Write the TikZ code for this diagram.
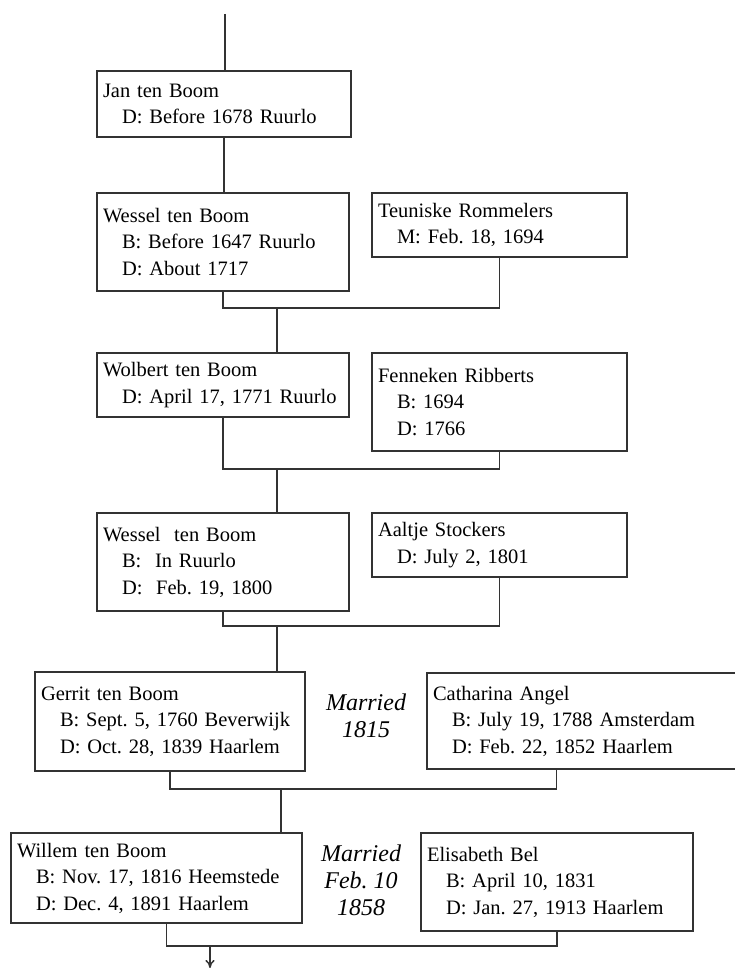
\documentclass[tikz,border=0pt]{standalone}
\usepackage{fontspec}
\setmainfont{Liberation Serif}
\usetikzlibrary{positioning,calc,arrows.meta}
\frenchspacing
\definecolor{linegray}{rgb}{0.2,0.2,0.2}
\def\ind{\hspace*{19pt}}
\tikzstyle{person} = [draw=linegray, line width=1.5pt, inner xsep=6pt, inner ysep=0pt, align=left, font=\fontsize{20.5}{26.5}\selectfont]
\tikzstyle{married} = [align=center, font=\fontsize{24}{27}\selectfont\itshape]
\tikzstyle{line} = [draw=linegray, line width=1.5pt]
\tikzstyle{arrow} = [line, -{To[length=8pt,width=9pt]}]

\begin{document}
\begin{tikzpicture}[x=1pt,y=-1pt]
      \useasboundingbox (0,0) rectangle (735,968);
      \node[person, text width=242pt, minimum height=66pt] (jan) at (224,104) {Jan ten Boom\\\ind D: Before 1678 Ruurlo};
      \node[person, text width=240pt, minimum height=98pt] (wessel) at (223,242) {Wessel ten Boom\\\ind B: Before 1647 Ruurlo\\\ind D: About 1717};
      \node[person, text width=243pt, minimum height=64pt] (teuniske) at (499.5,225) {Teuniske Rommelers\\\ind M: Feb. 18, 1694};
      \node[person, text width=240pt, minimum height=64pt] (wolbert) at (223,385) {Wolbert ten Boom\\\ind D: April 17, 1771 Ruurlo};
      \node[person, text width=243pt, minimum height=98pt] (fenneken) at (499.5,402) {Fenneken Ribberts\\\ind B: 1694\\\ind D: 1766};
      \node[person, text width=240pt, minimum height=98pt] (wesseltwo) at (223,562) {Wessel~ ten Boom\\\ind B:~ In Ruurlo\\\ind D:~ Feb. 19, 1800};
      \node[person, text width=243pt, minimum height=64pt] (aaltje) at (499.5,545) {Aaltje Stockers\\\ind D: July 2, 1801};
      \node[person, text width=258pt, minimum height=99pt] (gerrit) at (170,721.5) {Gerrit ten Boom\\\ind B: Sept. 5, 1760 Beverwijk\\\ind D: Oct. 28, 1839 Haarlem};
      \node[person, text width=301pt, minimum height=96pt] (catharina) at (583.5,721) {Catharina Angel\\\ind B: July 19, 1788 Amsterdam\\\ind D: Feb. 22, 1852 Haarlem};
      \node[person, text width=279pt, minimum height=90pt] (willem) at (156.5,878) {Willem ten Boom\\\ind B: Nov. 17, 1816 Heemstede\\\ind D: Dec. 4, 1891 Haarlem};
      \node[person, text width=260pt, minimum height=98pt] (elisabeth) at (557,882) {Elisabeth Bel\\\ind B: April 10, 1831\\\ind D: Jan. 27, 1913 Haarlem};
      \node[married] (wed1815) at (366,716) {Married\\1815};
      \node[married] (wed1858) at (361,880) {Married\\Feb. 10\\1858};
      %\node[married] (wed1694) at (361,225) {Married\\1694};
      \coordinate (top) at (225,14);
      \coordinate (bar1) at (277,308);
      \coordinate (bar2) at (277,469);
      \coordinate (bar3) at (277,626);
      \coordinate (bar4) at (281,789);
      \coordinate (bar5) at (210,946);
      \coordinate (next) at (210,968);
      \coordinate (cat) at ($(catharina.south west)+(130,0)$);
      \coordinate (wil) at ($(willem.south)+(10,0)$);
      \draw[line] (top) -- (top |- jan.north);
      \draw[line] (jan.south) -- (jan.south |- wessel.north);
      \draw[line] (wessel.south) |- (teuniske.south |- bar1) -- (teuniske.south);
      \draw[line] (bar1) -- (bar1 |- wolbert.north);
      \draw[line] (wolbert.south) |- (fenneken.south |- bar2) -- (fenneken.south);
      \draw[line] (bar2) -- (bar2 |- wesseltwo.north);
      \draw[line] (wesseltwo.south) |- (aaltje.south |- bar3) -- (aaltje.south);
      \draw[line] (bar3) -- (bar3 |- gerrit.north);
      \draw[line] (gerrit.south) |- (cat |- bar4) -- (cat);
      \draw[line] (bar4) -- (bar4 |- willem.north);
      \draw[line] (wil) |- (elisabeth.south |- bar5) -- (elisabeth.south);
      \draw[arrow] (bar5) -- (next);
\end{tikzpicture}
\end{document}
